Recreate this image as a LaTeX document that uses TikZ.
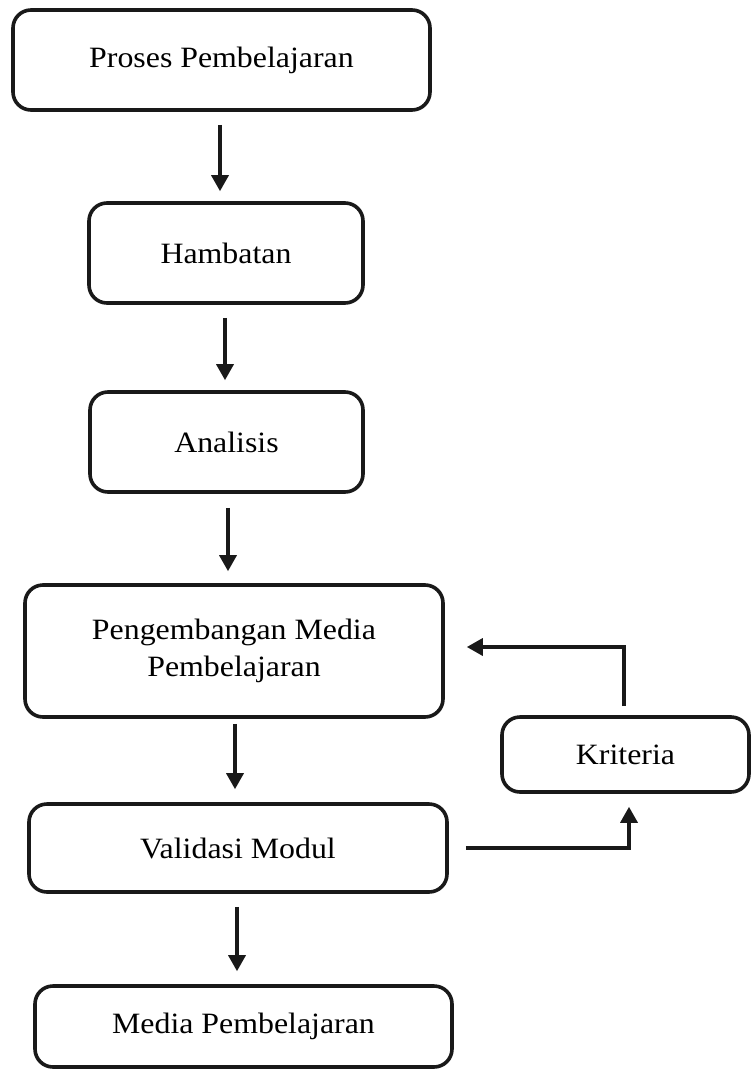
\documentclass[tikz,border=0pt]{standalone}
\usepackage{fontspec}
\setmainfont{Liberation Serif}[FakeStretch=1.08]
\usetikzlibrary{arrows.meta}
\begin{document}
\begin{tikzpicture}[x=1pt,y=-1pt,
  box/.style={draw=black!90,line width=3.6pt,rounded corners=18pt,align=center,
    inner sep=0pt,font=\fontsize{29.5}{37}\selectfont},
  arr/.style={line width=3.4pt,draw=black!90,-{Triangle[length=16pt,width=17pt]}}]
\useasboundingbox (0,0) rectangle (751,1070);
\node[box,minimum width=417pt,minimum height=100pt] (b1) at (221.5,60) {Proses Pembelajaran};
\node[box,minimum width=274pt,minimum height=100pt] (b2) at (226,253) {Hambatan};
\node[box,minimum width=273pt,minimum height=100pt] (b3) at (226.5,442) {Analisis};
\node[box,minimum width=418pt,minimum height=132pt] (b4) at (234,651) {Pengembangan Media\\Pembelajaran};
\node[box,minimum width=418pt,minimum height=88pt] (b5) at (238,848) {Validasi Modul};
\node[box,minimum width=417pt,minimum height=81pt] (b6) at (243.5,1026.5) {Media Pembelajaran};
\node[box,minimum width=247pt,minimum height=75pt] (kr) at (625.5,754.5) {Kriteria};
\coordinate (fb) at (624,647);
\draw[arr,shorten <=13pt,shorten >=10pt] ([xshift=-1.5pt]b1.south) -- ([xshift=-1.5pt]b1.south |- b2.north);
\draw[arr,shorten <=13pt,shorten >=10pt] ([xshift=-1pt]b2.south) -- ([xshift=-1pt]b2.south |- b3.north);
\draw[arr,shorten <=14pt,shorten >=12pt] ([xshift=1.5pt]b3.south) -- ([xshift=1.5pt]b3.south |- b4.north);
\draw[arr,shorten <=5pt,shorten >=13pt] ([xshift=1pt]b4.south) -- ([xshift=1pt]b4.south |- b5.north);
\draw[arr,shorten <=13pt,shorten >=13pt] ([xshift=-1pt]b5.south) -- ([xshift=-1pt]b5.south |- b6.north);
\draw[arr,shorten <=9pt,shorten >=22pt] (kr.north -| fb) -- (fb) -- (b4.east |- fb);
\draw[arr,shorten <=17pt,shorten >=13pt] (b5.east) -| ([xshift=3.5pt]kr.south);
\end{tikzpicture}
\end{document}
